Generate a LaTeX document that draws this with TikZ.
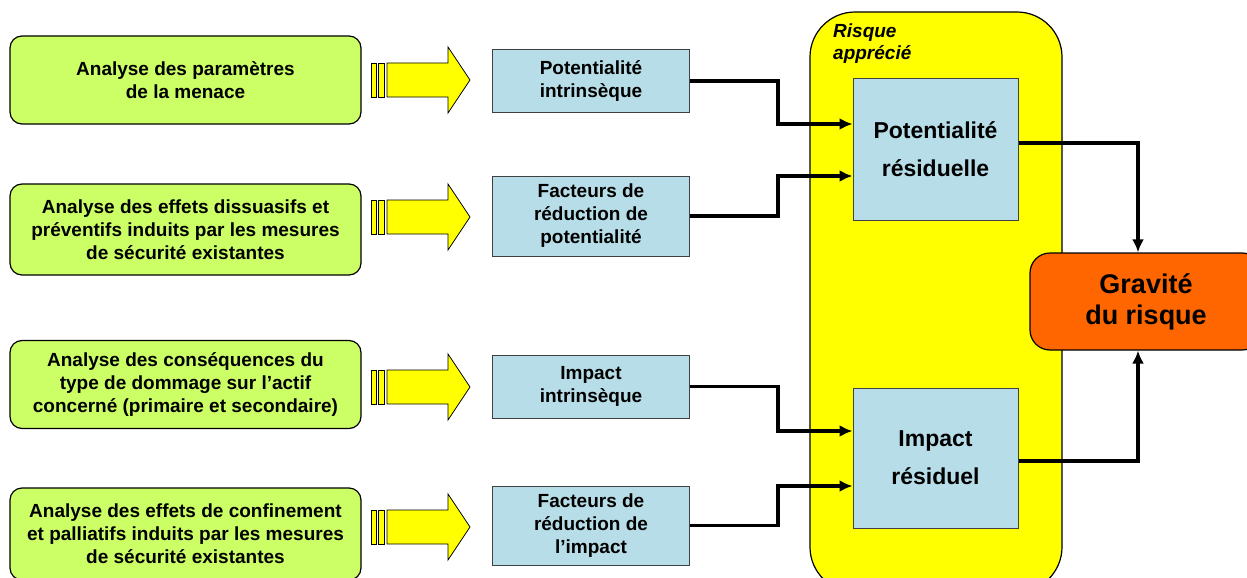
\documentclass[tikz,border=0pt]{standalone}
\usepackage{fontspec}
\setmainfont{Liberation Sans}
\usetikzlibrary{arrows.meta}
\definecolor{vertclair}{HTML}{CCFF66}
\definecolor{bleuclair}{HTML}{B7DEE8}
\definecolor{jaune}{HTML}{FFFF00}
\definecolor{orange}{HTML}{FF6600}

\tikzset{
  analyse/.style={draw=black, line width=1.2pt, fill=vertclair, rounded corners=12pt,
    minimum width=351pt, minimum height=88pt, inner sep=0pt, align=center,
    font=\fontsize{19}{23}\selectfont\bfseries},
  facteur/.style={draw=black!75, line width=1pt, fill=bleuclair,
    minimum width=197pt, inner sep=0pt, align=center,
    font=\fontsize{19}{23}\selectfont\bfseries},
  residuel/.style={draw=black!75, line width=1pt, fill=bleuclair,
    minimum width=165pt, inner sep=0pt, align=center,
    font=\fontsize{23}{38}\selectfont\bfseries},
  link/.style={line width=3.2pt, -{Latex[length=13pt,width=12pt]}},
  bloc/.style={draw=black, line width=0.8pt, fill=jaune}
}

\begin{document}
\begin{tikzpicture}[x=1pt,y=-1pt,>=latex]
  \useasboundingbox (0,0) rectangle (1247,578);

  % zone du risque apprecie
  \node[draw=black, line width=1.2pt, fill=jaune, rounded corners=45pt,
        minimum width=252pt, minimum height=580pt, inner sep=0pt] (zone) at (936,302) {};
  \node[anchor=north west, align=left, inner sep=0pt,
        font=\fontsize{19}{22}\selectfont\bfseries\itshape] (titre) at (833,24) {Risque\\apprécié};

  % analyses
  \node[analyse] (a1) at (185.5,80) {Analyse des paramètres\\de la menace};
  \node[analyse, minimum height=91pt] (a2) at (185.5,229.5) {Analyse des effets dissuasifs et\\préventifs induits par les mesures\\de sécurité existantes};
  \node[analyse] (a3) at (185.5,384.5) {Analyse des conséquences du\\type de dommage sur l’actif\\concerné (primaire et secondaire)};
  \node[analyse, minimum height=92pt] (a4) at (185.5,534) {Analyse des effets de confinement\\et palliatifs induits par les mesures\\de sécurité existantes};

  % fleches jaunes
  \foreach \y in {80,217,387,527}{
    \draw[bloc] ({371},{\y-17}) rectangle ({376},{\y+17});
    \draw[bloc] ({378},{\y-17}) rectangle ({384},{\y+17});
    \draw[bloc] ({387},{\y-17}) -- ({448},{\y-17}) -- ({448},{\y-33}) -- ({470},{\y})
      -- ({448},{\y+33}) -- ({448},{\y+17}) -- ({387},{\y+17}) -- cycle;
  }

  % facteurs
  \node[facteur, minimum height=62pt] (p1) at (591,81) {Potentialité\\intrinsèque};
  \node[facteur, minimum height=80pt] (p2) at (591,216) {Facteurs de\\réduction de\\potentialité};
  \node[facteur, minimum height=63pt] (p3) at (591,386.5) {Impact\\intrinsèque};
  \node[facteur, minimum height=79pt] (p4) at (591,525.5) {Facteurs de\\réduction de\\l’impact};

  % residuels
  \node[residuel, minimum height=142pt] (pr1) at (935.5,149) {Potentialité\\résiduelle};
  \node[residuel, minimum height=140pt] (pr2) at (935.5,458) {Impact\\résiduel};

  % gravite
  \node[draw=black, line width=1.2pt, fill=orange, rounded corners=20pt,
        minimum width=232pt, minimum height=97pt, inner sep=0pt, align=center,
        font=\fontsize{27}{31}\selectfont\bfseries] (grav) at (1146,301.5) {Gravité\\du risque};

  % liens
  \draw[link] (p1.east) -- ++(88,0) |- ([yshift=25pt]pr1.west);
  \draw[link] (p2.east) -- ++(88,0) |- ([yshift=-27pt]pr1.west);
  \draw[link] (p3.east) -- ++(88,0) |- ([yshift=27pt]pr2.west);
  \draw[link] (p4.east) -- ++(88,0) |- ([yshift=-28pt]pr2.west);
  \draw[link] ([yshift=6pt]pr1.east) -| ([xshift=-8pt]grav.north);
  \draw[link] ([yshift=-3pt]pr2.east) -| ([xshift=-8pt]grav.south);
\end{tikzpicture}
\end{document}
